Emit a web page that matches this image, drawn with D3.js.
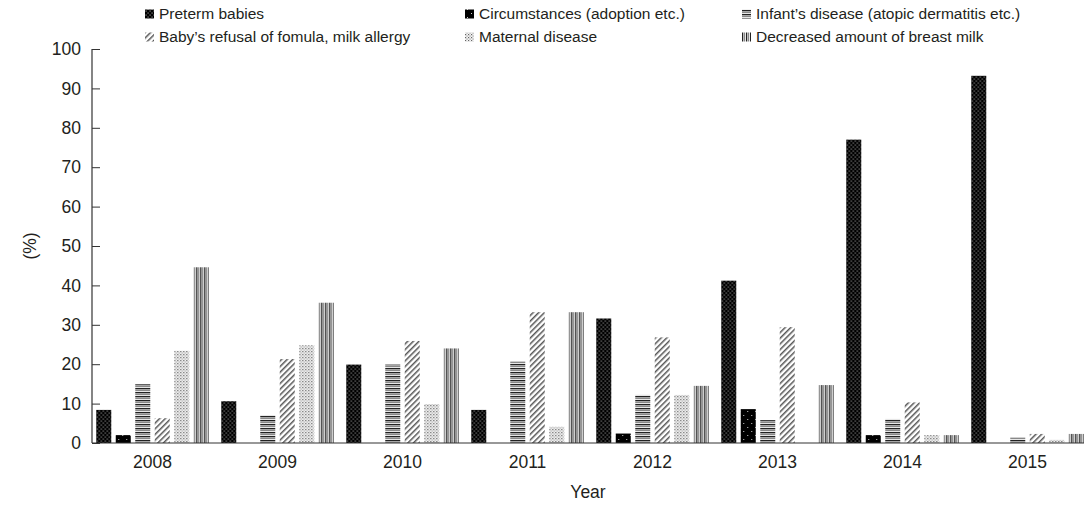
<!DOCTYPE html>
<html>
<head>
<meta charset="utf-8">
<script src="https://cdn.jsdelivr.net/npm/d3@7"></script>
<style>
  body { margin: 0; background: #fff; }
  svg text { font-family: "Liberation Sans", Arial, sans-serif; fill: #231f20; }
</style>
</head>
<body>
<div id="chart"></div>
<script>
// Data (%)
const years = ['2008', '2009', '2010', '2011', '2012', '2013', '2014', '2015'];
const causes = [
    'Preterm babies',
    'Circumstances (adoption etc.)',
    'Infant\u2019s disease (atopic dermatitis etc.)',
    'Baby\u2019s refusal of fomula, milk allergy',
    'Maternal disease',
    'Decreased amount of breast milk'
];
const preterm = [8.4, 10.6, 19.9, 8.4, 31.6, 41.2, 77.0, 93.2];
const circumstances = [2.0, 0, 0, 0, 2.4, 8.6, 2.0, 0];
const infant = [14.9, 7.1, 19.9, 20.7, 12.2, 5.8, 6.1, 1.4];
const refusal = [6.3, 21.3, 25.9, 33.2, 26.8, 29.4, 10.3, 2.3];
const maternal = [23.4, 24.8, 9.9, 4.1, 12.2, 0, 2.0, 0.8];
const decreased = [44.6, 35.6, 24.0, 33.2, 14.5, 14.7, 2.0, 2.3];
const yTicks = [0, 10, 20, 30, 40, 50, 60, 70, 80, 90, 100];

const series = [preterm, circumstances, infant, refusal, maternal, decreased];
const patternIds = ['p-preterm', 'p-circ', 'p-infant', 'p-refusal', 'p-maternal', 'p-decreased'];

const W = 1084, H = 505;

const svg = d3.select('#chart')
    .append('svg')
    .attr('width', W)
    .attr('height', H);

// Fill patterns (greyscale print style)
const defs = svg.append('defs');

// preterm: black with dense white dots
let p = defs.append('pattern').attr('id', 'p-preterm')
    .attr('width', 4).attr('height', 4).attr('patternUnits', 'userSpaceOnUse');
p.append('rect').attr('width', 4).attr('height', 4).attr('fill', '#000');
p.append('rect').attr('x', 0.6).attr('y', 0.6).attr('width', 0.9).attr('height', 0.9).attr('fill', '#fff');
p.append('rect').attr('x', 2.6).attr('y', 2.6).attr('width', 0.9).attr('height', 0.9).attr('fill', '#fff');

// circumstances: black with sparse white dots
p = defs.append('pattern').attr('id', 'p-circ')
    .attr('width', 8).attr('height', 8).attr('patternUnits', 'userSpaceOnUse');
p.append('rect').attr('width', 8).attr('height', 8).attr('fill', '#000');
p.append('rect').attr('x', 2).attr('y', 3).attr('width', 1).attr('height', 1).attr('fill', '#ccc');
p.append('rect').attr('x', 6).attr('y', 7).attr('width', 1).attr('height', 1).attr('fill', '#ccc');

// infant: horizontal stripes
p = defs.append('pattern').attr('id', 'p-infant')
    .attr('width', 4).attr('height', 4).attr('patternUnits', 'userSpaceOnUse');
p.append('rect').attr('width', 4).attr('height', 4).attr('fill', '#fff');
p.append('rect').attr('y', 0).attr('width', 4).attr('height', 1.4).attr('fill', '#222');
p.append('rect').attr('y', 2).attr('width', 4).attr('height', 1.2).attr('fill', '#888');

// refusal: diagonal hatch
p = defs.append('pattern').attr('id', 'p-refusal')
    .attr('width', 4).attr('height', 4).attr('patternUnits', 'userSpaceOnUse')
    .attr('patternTransform', 'rotate(45)');
p.append('rect').attr('width', 4).attr('height', 4).attr('fill', '#fff');
p.append('rect').attr('x', 0).attr('width', 1.5).attr('height', 4).attr('fill', '#555');

// maternal: light dotted grid
p = defs.append('pattern').attr('id', 'p-maternal')
    .attr('width', 3).attr('height', 3).attr('patternUnits', 'userSpaceOnUse');
p.append('rect').attr('width', 3).attr('height', 3).attr('fill', '#f4f4f4');
p.append('rect').attr('x', 0).attr('y', 0).attr('width', 1.2).attr('height', 1.2).attr('fill', '#666');
p.append('rect').attr('x', 1.5).attr('y', 1.5).attr('width', 1.1).attr('height', 1.1).attr('fill', '#888');

// decreased: vertical stripes
p = defs.append('pattern').attr('id', 'p-decreased')
    .attr('width', 4).attr('height', 4).attr('patternUnits', 'userSpaceOnUse');
p.append('rect').attr('width', 4).attr('height', 4).attr('fill', '#fff');
p.append('rect').attr('x', 0).attr('width', 1.3).attr('height', 4).attr('fill', '#222');
p.append('rect').attr('x', 2).attr('width', 1.2).attr('height', 4).attr('fill', '#888');

// Scales
const x0 = d3.scaleBand()
    .domain(years)
    .range([90, 1090])
    .paddingInner(0.1)
    .paddingOuter(0.05);

const x1 = d3.scaleBand()
    .domain(d3.range(series.length))
    .range([0, x0.bandwidth()])
    .paddingInner(0.23);

const y = d3.scaleLinear()
    .domain([0, 100])
    .range([443, 49]);

// Bars
const groups = svg.selectAll('.year')
    .data(years)
    .enter()
    .append('g')
    .attr('class', 'year')
    .attr('transform', d => `translate(${x0(d)},0)`);

groups.selectAll('rect')
    .data((d, i) => series.map((s, k) => ({ k, v: s[i] })))
    .enter()
    .append('rect')
    .attr('x', d => x1(d.k))
    .attr('width', x1.bandwidth())
    .attr('y', d => y(d.v))
    .attr('height', d => y(0) - y(d.v))
    .attr('fill', d => `url(#${patternIds[d.k]})`);

// Y axis (ticks inside)
const yAxis = d3.axisRight(y)
    .tickValues(yTicks)
    .tickSize(8)
    .tickFormat(d3.format('d'));

const yg = svg.append('g')
    .attr('transform', 'translate(92,0)')
    .call(yAxis);
yg.select('.domain').attr('stroke', '#333').attr('stroke-width', 1.2).attr('d', `M0,${y(100)}V${y(0)}`);
yg.selectAll('.tick line').attr('stroke', '#333');
yg.selectAll('.tick text')
    .attr('x', -11)
    .attr('text-anchor', 'end')
    .attr('font-size', 17.5);

// X axis line and year labels
svg.append('line')
    .attr('x1', 92).attr('x2', W)
    .attr('y1', y(0)).attr('y2', y(0))
    .attr('stroke', '#333').attr('stroke-width', 1.2);

const xAxis = d3.axisBottom(x0).tickSize(0).tickPadding(13);
const xg = svg.append('g')
    .attr('transform', `translate(0,${y(0)})`)
    .call(xAxis);
xg.select('.domain').remove();
xg.selectAll('.tick text').attr('font-size', 17.5);

// Axis titles
svg.append('text')
    .attr('x', (92 + W) / 2)
    .attr('y', 498)
    .attr('text-anchor', 'middle')
    .attr('font-size', 17.5)
    .text('Year');

svg.append('text')
    .attr('transform', `translate(36,${y(50)}) rotate(-90)`)
    .attr('text-anchor', 'middle')
    .attr('font-size', 17.5)
    .text('(%)');

// Legend (3 columns x 2 rows)
const legendX = [145, 465, 742];
const legendY = [14, 37];
const legend = svg.selectAll('.legend')
    .data(causes)
    .enter()
    .append('g')
    .attr('class', 'legend')
    .attr('transform', (d, i) => `translate(${legendX[i % 3]},${legendY[Math.floor(i / 3)]})`);

legend.append('rect')
    .attr('y', -4.5)
    .attr('width', 9)
    .attr('height', 9)
    .attr('fill', (d, i) => `url(#${patternIds[i]})`);

legend.append('text')
    .attr('x', 14)
    .attr('dy', '0.35em')
    .attr('font-size', 15.5)
    .text(d => d);
</script>
</body>
</html>
